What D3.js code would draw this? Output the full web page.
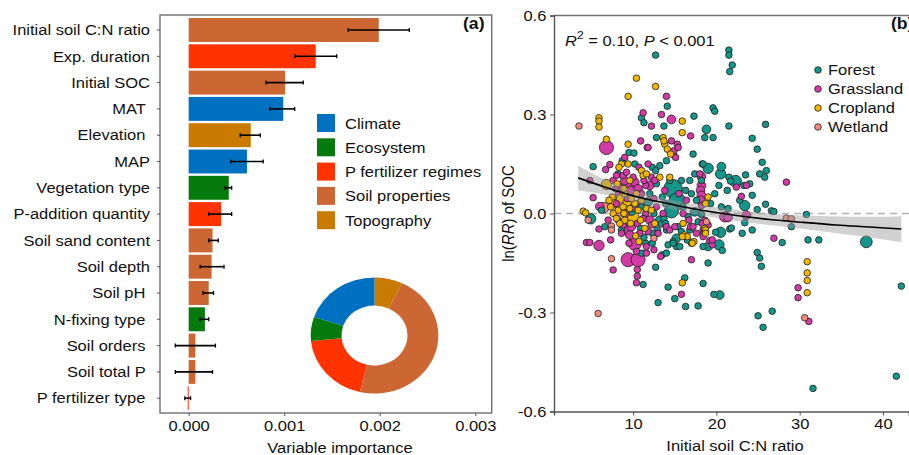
<!DOCTYPE html>
<html><head><meta charset="utf-8">
<script src="https://cdn.jsdelivr.net/npm/d3@7"></script>
<style>
html,body{margin:0;padding:0;background:#fff;}
svg text{font-family:"Liberation Sans",Arial,sans-serif;white-space:pre;}
</style></head>
<body>
<svg id="chart" width="909" height="455"></svg>
<script>
// ---------- DATA: panel (a) ----------
const variables = ["Initial soil C:N ratio","Exp. duration","Initial SOC","MAT ","Elevation ","MAP","Vegetation type","P-addition quantity","Soil sand content","Soil depth","Soil pH ","N-fixing type ","Soil orders ","Soil total P ","P fertilizer type "];
const varGroup = ["Soil properties","P fertilizer regimes","Soil properties","Climate","Topography","Climate","Ecosystem","P fertilizer regimes","Soil properties","Soil properties","Soil properties","Ecosystem","Soil properties","Soil properties","P fertilizer regimes"];
const importance = [0.00199,0.00133,0.00101,0.00099,0.00065,0.00061,0.00042,0.00034,0.00025,0.00024,0.00021,0.00017,0.00007,0.00007,-0.00001];
const errLow  = [0.00167,0.00111,0.00081,0.00085,0.00054,0.00044,0.00038,0.00021,0.00021,0.00012,0.00015,0.00012,-0.00014,-0.00014,-0.00004];
const errHigh = [0.00231,0.00155,0.00120,0.00111,0.00075,0.00078,0.00045,0.00045,0.00031,0.00037,0.00026,0.00021,0.00028,0.00025,0.00002];
const groups = ["Climate","Ecosystem","P fertilizer regimes","Soil properties","Topography"];
const impTicks = [0.000,0.001,0.002,0.003];
const donutGroups = ["Topography","Soil properties","P fertilizer regimes","Ecosystem","Climate"];
const donutShare = [7.1,46.6,19.8,6.7,19.8];

// ---------- DATA: panel (b) ----------
const ecosystems = ["Forest","Grassland","Cropland","Wetland"];
// [initial soil C:N, ln(RR) of SOC, weight]
const forestPts = [
[12.7,0.48,1],[21.5,0.495,1],[21.5,0.48,1],[21.6,0.43,1],[21.9,0.45,1],[19.6,0.32,1],[19.8,0.31,1],[14.1,0.325,1],
[17.3,0.295,1],[11.0,0.29,1],[11.3,0.275,1],[21.5,0.265,1],[25.9,0.27,1],[13.7,0.265,1],[18.8,0.255,2],[18.6,0.23,1],
[19.6,0.23,1],[24.3,0.228,1],[24.9,0.195,1],[17.2,0.18,1],[9.5,0.185,1],[10.1,0.183,1],[12.8,0.23,1],[25.5,0.155,1],
[19.0,0.137,3],[18.3,0.15,1],[20.5,0.12,3],[21.5,0.11,1],[21.7,0.098,1],[22.3,0.098,4],[23.5,0.117,1],[25.2,0.12,1],
[26.0,0.13,1],[25.8,0.11,1],[24.0,0.09,1],[5.2,0.142,1],[8.7,0.16,1],[13.2,0.145,1],[14.0,0.16,1],[14.4,0.10,1],
[10.2,0.15,1],[8.2,0.12,1],[12.3,0.14,1],[12.7,0.13,1],[14.8,0.075,11],[15.3,0.037,9],[14.6,0.008,6],[18.2,0.10,1],
[17.6,0.04,1],[18.2,-0.003,1],[20.6,0.142,2],[18.4,0.15,1],[20.3,0.085,1],[21.3,0.07,1],[23.3,0.085,1],[24.3,0.055,1],
[23.4,0.024,3],[25.9,0.028,1],[24.9,0.012,1],[26.6,0.008,1],[20.6,0.02,1],[21.4,0.015,1],[26.9,0.006,1],[30.8,-0.003,1],
[29.0,-0.04,1],[23.4,-0.028,1],[21.6,-0.047,1],[20.5,-0.057,3],[23.1,-0.06,1],[24.3,-0.05,1],[27.9,-0.088,1],[31.0,-0.08,1],
[32.3,-0.08,1],[38.0,-0.086,4],[4.9,-0.016,3],[6.2,0.01,1],[11.5,-0.09,1],[12.3,-0.09,1],[13.2,-0.02,2],[13.4,-0.032,1],
[15.4,-0.04,1],[15.8,-0.055,1],[14.8,-0.085,1],[15.2,-0.1,1],[19.0,-0.1,2],[20.3,-0.095,3],[19.9,-0.057,1],[24.9,-0.118,1],
[25.2,-0.135,1],[25.4,-0.16,1],[42.2,-0.22,1],[26.7,-0.296,1],[25.0,-0.31,1],[25.6,-0.345,1],[41.6,-0.493,1],[31.6,-0.53,1],
[19.7,-0.245,1],[20.4,-0.247,2],[18.4,-0.212,1],[19.0,-0.15,1],[17.8,-0.28,1],[16.3,-0.282,1],[16.2,-0.195,1],[15.0,-0.258,1],
[14.2,-0.223,1],[13.0,-0.27,1],[12.7,-0.163,1],[11.2,-0.215,1],[13.5,-0.125,1],[14.0,-0.12,1],[14.2,-0.095,1],[14.8,-0.09,1],
[15.6,-0.1,1],[15.2,-0.075,2],[17.0,-0.09,1],[18.4,-0.1,1],[20.7,-0.112,1],[21.8,-0.044,1],[11.3,-0.072,1],[16.5,-0.08,1],
[13.7,-0.015,1],[13.9,-0.03,1],[14.0,-0.05,1],[9.8,0.01,3],[11.0,0.02,1],[12.5,0.0,1],[16.0,0.02,1],[17.0,0.06,1],
[16.6,-0.01,1],[12.0,0.06,1],[13.5,0.05,1],[11.8,0.035,2],[16.8,0.1,1],[17.4,0.005,2],[12.9,-0.05,1],[10.9,-0.045,1],
[12.8,0.09,1],[13.9,0.03,1],[15.8,0.1,1],[16.3,0.07,1],[17.4,0.12,1],[12.3,-0.06,1],[11.0,-0.12,1],[16.8,-0.05,1],
[17.8,-0.025,1],[19.3,0.03,1],[19.8,0.06,1],[22.8,0.04,1],[8.6,-0.05,1],[6.6,-0.04,1]
];
const grassPts = [
[14.0,0.355,1],[13.4,0.30,1],[14.6,0.285,2],[11.2,0.305,1],[12.2,0.265,1],[16.9,0.235,1],[6.8,0.20,6],[10.9,0.22,1],
[11.7,0.20,1],[14.8,0.18,1],[15.1,0.17,1],[15.3,0.21,1],[14.6,0.22,1],[14.9,0.19,1],[15.4,0.20,1],[28.4,0.095,1],
[7.2,0.148,1],[6.7,0.133,1],[9.0,0.17,1],[4.8,0.10,1],[11.8,0.20,1],[10.7,0.14,1],[11.8,0.15,1],[8.0,0.115,1],
[8.8,0.115,1],[12.2,0.11,1],[12.6,0.10,1],[9.6,0.088,2],[10.2,0.095,2],[9.8,0.07,2],[10.6,0.075,2],[11.0,0.06,1],
[9.0,0.10,2],[10.0,0.11,1],[8.5,0.08,1],[11.5,0.085,1],[18.2,0.112,2],[18.2,0.085,2],[18.1,0.07,2],[18.2,0.055,2],
[18.1,0.04,2],[18.2,0.024,1],[18.0,0.12,1],[23.0,0.052,1],[22.4,0.08,1],[23.6,0.085,1],[21.0,-0.01,3],[21.4,-0.012,2],
[23.6,-0.005,2],[5.2,0.048,1],[6.0,0.021,2],[5.9,-0.047,1],[4.4,-0.088,1],[4.8,-0.088,1],[5.9,-0.097,3],[9.2,-0.047,3],
[10.2,-0.092,5],[9.5,-0.09,1],[14.0,-0.04,1],[14.4,-0.05,1],[16.7,-0.02,1],[16.9,-0.04,1],[18.6,-0.02,1],[19.0,-0.035,1],
[18.4,-0.05,1],[19.2,-0.082,1],[19.5,-0.095,1],[19.5,-0.08,1],[26.9,-0.075,1],[29.8,-0.225,1],[29.8,-0.255,1],[31.1,-0.327,1],
[17.0,-0.14,1],[10.4,-0.21,1],[7.6,-0.171,1],[9.4,-0.14,6],[10.6,-0.14,6],[10.5,-0.17,1],[10.5,-0.19,1],[11.6,-0.12,1],
[11.6,-0.10,1],[15.8,-0.245,1],[15.0,-0.04,1],[17.2,-0.04,1],[18.3,-0.03,1],[18.5,-0.06,1],[18.4,-0.07,1],[13.3,-0.13,1],
[8.0,0.03,1],[9.0,0.0,2],[11.5,0.0,1],[12.0,-0.02,2],[10.5,-0.03,1],[8.6,-0.06,1],[7.0,-0.02,1],[12.8,0.02,1],
[16.0,0.0,1],[13.0,-0.06,1],[11.8,-0.055,1],[8.2,-0.02,1],[12.5,0.045,1],[10.8,0.03,2],[9.6,-0.065,2],[7.9,0.075,1],
[8.4,0.06,2],[9.3,0.045,1],[10.0,0.02,2],[11.2,-0.015,1],[9.8,-0.04,2],[8.8,-0.035,1],[10.8,-0.06,1],[11.3,0.1,1],
[12.0,0.085,2],[9.2,0.125,1],[7.6,0.1,1],[13.8,0.07,1],[12.2,-0.035,1],[13.6,0.0,1],[15.5,0.06,1],[16.4,0.04,1],
[17.6,-0.06,1],[10.4,-0.115,1],[12.5,-0.11,1],[7.3,-0.08,1]
];
const cropPts = [
[10.4,0.41,1],[12.7,0.385,1],[9.4,0.355,1],[5.9,0.29,1],[5.9,0.28,1],[5.9,0.262,1],[15.9,0.28,1],[15.9,0.245,1],
[6.8,0.225,1],[9.4,0.21,1],[13.6,0.23,1],[13.8,0.21,1],[14.1,0.195,1],[14.5,0.18,1],[13.7,0.22,1],[6.8,0.088,3],
[8.6,0.15,1],[8.3,0.14,1],[9.4,0.15,1],[11.0,0.13,1],[11.2,0.115,1],[11.6,0.12,1],[13.2,0.11,1],[14.4,0.11,1],
[4.0,0.007,1],[4.3,0.002,1],[10.4,0.06,1],[11.0,0.04,1],[10.2,0.03,1],[7.5,0.05,1],[7.8,0.03,2],[8.2,0.01,1],
[8.5,0.045,2],[8.8,0.02,1],[9.0,0.06,1],[9.3,0.035,2],[9.6,0.015,1],[7.6,0.0,1],[8.0,-0.015,1],[8.4,-0.03,1],
[9.8,0.045,1],[10.0,-0.01,4],[10.6,0.01,1],[7.3,0.02,1],[9.0,-0.02,1],[10.3,-0.068,1],[10.7,-0.085,1],[16.1,-0.065,1],
[16.5,-0.07,1],[18.6,-0.045,1],[15.9,-0.07,1],[17.3,-0.085,1],[17.1,-0.09,1],[16.0,-0.03,1],[18.7,-0.05,1],[18.7,-0.06,1],
[18.7,0.03,1],[19.0,0.05,1],[15.9,-0.21,1],[30.9,-0.146,1],[30.9,-0.18,1],[30.9,-0.203,1],[30.9,-0.24,1],[8.9,0.075,1],
[8.9,0.0,1],[9.7,-0.03,1],[10.9,-0.02,1],[11.6,0.015,1],[12.2,0.01,1],[7.1,0.04,1],[8.1,0.09,1],[9.6,0.1,1],
[11.4,-0.045,1],[12.6,-0.03,1]
];
const wetPts = [
[3.5,0.265,1],[6.5,0.018,3],[4.6,-0.02,1],[7.4,-0.038,1],[7.4,-0.05,1],[7.4,-0.137,1],[12.5,-0.075,1],[5.8,-0.303,1],
[28.4,-0.014,1],[29.0,-0.016,1],[30.6,-0.316,1],[18.8,-0.025,1],[8.3,0.005,2]
];
// fitted trend and 95% band
const fitX  = [3.4,6.4,10.4,14.4,18.4,22.4,26.4,30.4,34.4,38.4,42.2];
const fitY  = [0.108,0.082,0.051,0.029,0.009,-0.006,-0.018,-0.027,-0.035,-0.041,-0.047];
const bandLo= [0.070,0.058,0.033,0.014,-0.006,-0.023,-0.035,-0.047,-0.060,-0.073,-0.087];
const bandHi= [0.145,0.106,0.068,0.043,0.024,0.011,0.000,-0.006,-0.009,-0.010,-0.008];
const cnTicks = [10,20,30,40];
const rrTicks = [0.6,0.3,0.0,-0.3,-0.6];

// ---------- STYLE ----------
const groupColor = {"Climate":"#0070C0","Ecosystem":"#077A0E","P fertilizer regimes":"#FF3300","Soil properties":"#CC6633","Topography":"#C97A00"};
const ecoColor = {"Forest":"#15968A","Grassland":"#D33AA6","Cropland":"#F2B705","Wetland":"#F28B7F"};
const svg = d3.select("#chart");
const FS = 15, SX = 1.1;   // text is rendered slightly wide, as in the source image
function txt(g, x, y, s, opt={}) {
  const t = g.append("text").attr("transform",`translate(${x},${y}) scale(${SX},1)${opt.rot?` rotate(${opt.rot})`:""}`)
    .attr("font-size", opt.fs||FS).attr("fill","#111").attr("text-anchor", opt.anchor||"start");
  if (opt.bold) t.attr("font-weight","bold");
  if (opt.dy) t.attr("dy", opt.dy);
  if (s!==null) t.text(s);
  return t;
}
function styleAxisText(sel){ sel.selectAll("text").attr("font-size",FS).attr("fill","#111").attr("font-family",null).attr("transform",`scale(${SX},1)`); }
const hyphen = f => d => f(d).replace("\u2212","-");

// ================= PANEL A =================
const A = {l:160, r:491.7, t:15, b:413};
const xA = d3.scaleLinear().domain([-0.0003, 0.003172]).range([A.l, A.r]);
const yA = d3.scaleBand().domain(variables).range([16.85, 411.35]).paddingInner(0.09).paddingOuter(0.045);
const gA = svg.append("g");
const barsData = variables.map((v,i)=>({v, g:varGroup[i], val:importance[i], lo:errLow[i], hi:errHigh[i]}));
gA.selectAll("rect.bar").data(barsData).join("rect")
  .attr("x", d=>xA(Math.min(0,d.val))).attr("y", d=>yA(d.v))
  .attr("width", d=>Math.max(1, Math.abs(xA(d.val)-xA(0)))).attr("height", yA.bandwidth())
  .attr("fill", d=>groupColor[d.g]);
// error bars
const eb = gA.selectAll("g.eb").data(barsData).join("g");
eb.append("line").attr("x1",d=>xA(d.lo)).attr("x2",d=>xA(d.hi))
  .attr("y1",d=>yA(d.v)+yA.bandwidth()/2).attr("y2",d=>yA(d.v)+yA.bandwidth()/2)
  .attr("stroke","#000").attr("stroke-width",1.6);
["lo","hi"].forEach(k=>{
  eb.append("line").attr("x1",d=>xA(d[k])).attr("x2",d=>xA(d[k]))
   .attr("y1",d=>yA(d.v)+yA.bandwidth()/2-2).attr("y2",d=>yA(d.v)+yA.bandwidth()/2+2)
   .attr("stroke","#000").attr("stroke-width",1.3);
});
// frame
gA.append("rect").attr("x",A.l).attr("y",A.t).attr("width",A.r-A.l).attr("height",A.b-A.t)
  .attr("fill","none").attr("stroke","#6f6f6f").attr("stroke-width",1.4);
// y axis labels
variables.forEach(v=>{
  const yc = yA(v)+yA.bandwidth()/2;
  gA.append("line").attr("x1",A.l-3).attr("x2",A.l).attr("y1",yc).attr("y2",yc).attr("stroke","#555").attr("stroke-width",1);
  txt(gA, 150, yc, v, {anchor:"end", dy:"0.35em"});
});
// x axis
const xAx = gA.append("g").attr("transform",`translate(0,${A.b})`)
  .call(d3.axisBottom(xA).tickValues(impTicks).tickFormat(hyphen(d3.format(".3f"))).tickSize(3).tickPadding(4));
xAx.select(".domain").remove();
xAx.selectAll("line").attr("stroke","#555");
styleAxisText(xAx);
txt(gA, 340, 453, "Variable importance", {anchor:"middle"});
txt(gA, 463, 29, "(a)", {fs:16, bold:true});
// legend
groups.forEach((g,i)=>{
  const y = 114 + i*24.3;
  gA.append("rect").attr("x",317).attr("y",y).attr("width",18).attr("height",18).attr("fill",groupColor[g]);
  txt(gA, 345, y+14.5, g);
});
// donut
const pie = d3.pie().sort(null).value(d=>d.s)(donutGroups.map((g,i)=>({g, s:donutShare[i]})));
const arc = d3.arc().innerRadius(30).outerRadius(58);
gA.append("g").attr("transform","translate(374.5,335.5) scale(1.1,1)")
  .selectAll("path").data(pie).join("path").attr("d",arc).attr("fill",d=>groupColor[d.data.g]);

// ================= PANEL B =================
const B = {l:554, r:909, t:15.5, b:411.5};
const xB = d3.scaleLinear().domain([0.5, 43.1]).range([B.l, 908.8]);
const yB = d3.scaleLinear().domain([-0.6, 0.6]).range([411.5, 15.5]);
const rB = d3.scaleSqrt().domain([1, 11]).range([3.3, 9.3]);
const gB = svg.append("g");
// zero reference
gB.append("line").attr("x1",B.l).attr("x2",B.r).attr("y1",yB(0)).attr("y2",yB(0))
  .attr("stroke","#b3b3b3").attr("stroke-width",1.3).attr("stroke-dasharray","7,5");
// points
let pts = [];
[[forestPts,"Forest"],[grassPts,"Grassland"],[cropPts,"Cropland"],[wetPts,"Wetland"]].forEach(([arr,e])=>{
  arr.forEach(p=>pts.push({x:p[0], y:p[1], w:p[2], e}));
});
pts.sort((a,b)=>b.w-a.w);
gB.selectAll("circle.pt").data(pts).join("circle")
  .attr("cx",d=>xB(d.x)).attr("cy",d=>yB(d.y)).attr("r",d=>rB(d.w))
  .attr("fill",d=>ecoColor[d.e]).attr("stroke","#1e1e1e").attr("stroke-width",0.8);
// band + fit
const fit = fitX.map((x,i)=>({x, y:fitY[i], lo:bandLo[i], hi:bandHi[i]}));
gB.append("path").datum(fit)
  .attr("d", d3.area().x(d=>xB(d.x)).y0(d=>yB(d.lo)).y1(d=>yB(d.hi)).curve(d3.curveMonotoneX))
  .attr("fill","#9a9a9a").attr("fill-opacity",0.45);
gB.append("path").datum(fit)
  .attr("d", d3.line().x(d=>xB(d.x)).y(d=>yB(d.y)).curve(d3.curveMonotoneX))
  .attr("fill","none").attr("stroke","#000").attr("stroke-width",1.6);
// axes
gB.append("line").attr("x1",B.l).attr("x2",B.r).attr("y1",B.t).attr("y2",B.t).attr("stroke","#6f6f6f").attr("stroke-width",1.4);
const yBx = gB.append("g").attr("transform",`translate(${B.l},0)`)
  .call(d3.axisLeft(yB).tickValues(rrTicks).tickFormat(hyphen(d3.format(".1f"))).tickSize(4).tickPadding(3));
yBx.select(".domain").attr("stroke","#555").attr("stroke-width",1.4);
yBx.selectAll("line").attr("stroke","#555");
styleAxisText(yBx);
const xBx = gB.append("g").attr("transform",`translate(0,${B.b})`)
  .call(d3.axisBottom(xB).tickValues(cnTicks).tickSize(4).tickPadding(3));
xBx.select(".domain").attr("stroke","#555").attr("stroke-width",1.4);
xBx.selectAll("line").attr("stroke","#555");
styleAxisText(xBx);
// labels
txt(gB, 735, 451, "Initial soil C:N ratio", {anchor:"middle"});
const yl = txt(gB, 514, 213.5, null, {anchor:"middle", rot:-90});
yl.append("tspan").text("ln(");
yl.append("tspan").attr("font-style","italic").text("RR");
yl.append("tspan").text(") of SOC");
const r2 = txt(gB, 565, 46, null, {fs:15});
r2.append("tspan").attr("font-style","italic").text("R");
r2.append("tspan").attr("font-size",11).attr("dy",-7).text("2");
r2.append("tspan").attr("dy",7).text(" = 0.10, ");
r2.append("tspan").attr("font-style","italic").text("P");
r2.append("tspan").text(" < 0.001");
txt(gB, 891, 29, "(b)", {fs:16, bold:true});
// legend
ecosystems.forEach((e,i)=>{
  const y = 70 + i*19;
  gB.append("circle").attr("cx",818).attr("cy",y).attr("r",3.3).attr("fill",ecoColor[e]).attr("stroke","#1e1e1e").attr("stroke-width",0.8);
  txt(gB, 828, y+5.3, e);
});
</script>
</body></html>
